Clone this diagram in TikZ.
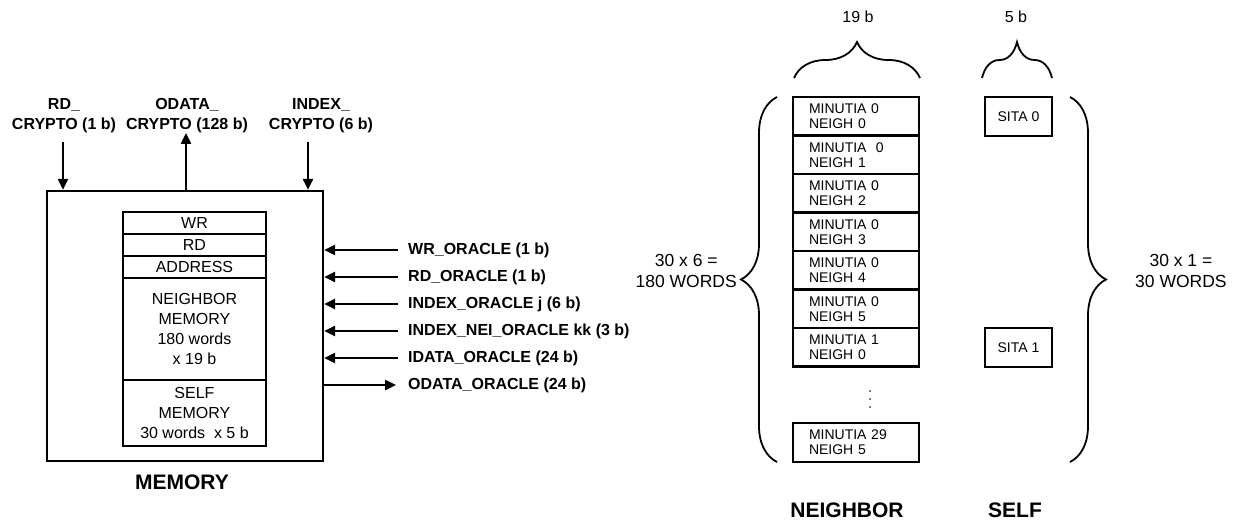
\documentclass[tikz,border=0pt]{standalone}
\usepackage{fontspec}
\setmainfont{Liberation Sans}
\usetikzlibrary{arrows.meta,decorations.pathreplacing}

\begin{document}
\begin{tikzpicture}[x=1pt,y=-1pt,
  box/.style={draw,line width=2.4pt,inner sep=0pt},
  cellrow/.style={box,minimum width=143pt,align=center,font=\fontsize{16}{20}\selectfont},
  wordcell/.style={box,minimum width=126pt,minimum height=38.5pt,text width=94pt,
    inner xsep=16pt,align=left,font=\fontsize{14}{15}\selectfont},
  sitacell/.style={box,minimum width=67pt,minimum height=39pt,font=\fontsize{14}{16}\selectfont},
  sig/.style={line width=2.4pt,-{Triangle[length=11pt,width=10pt]}},
  siglabel/.style={anchor=west,inner sep=0pt,font=\bfseries\fontsize{16}{18}\selectfont},
  toplabel/.style={align=center,inner sep=0pt,font=\bfseries\fontsize{16}{20}\selectfont},
  title/.style={inner sep=0pt,font=\bfseries\fontsize{21}{24}\selectfont},
  dim/.style={inner sep=0pt,align=center,font=\fontsize{17.5}{21}\selectfont},
  curly/.style={line width=1.8pt,decorate,decoration={brace,amplitude=36pt}}]

\useasboundingbox (0,0) rectangle (1234,524);

% ---------- memory block ----------
\node[box,minimum width=276pt,minimum height=270pt] (mem) at (185,326) {};
\node[cellrow,minimum height=22pt] (wr) at (194.5,223) {WR};
\node[cellrow,minimum height=22pt] (rd) at (194.5,245) {RD};
\node[cellrow,minimum height=22pt] (addr) at (194.5,267) {ADDRESS};
\node[cellrow,minimum height=102pt] (nmem) at (194.5,329)
  {NEIGHBOR\\MEMORY\\180 words\\x 19 b};
\node[cellrow,minimum height=66pt] (smem) at (194.5,413)
  {SELF\\MEMORY\\30 words\ \ x 5 b};
\node[title] (memt) at (182,482) {MEMORY};

% ---------- crypto side ----------
\node[toplabel] (rdc) at (64,116) {RD\_\\CRYPTO (1 b)};
\node[toplabel] (odc) at (187,116) {ODATA\_\\CRYPTO (128 b)};
\node[toplabel] (ixc) at (321,116) {INDEX\_\\CRYPTO (6 b)};
\coordinate (rdc-s) at (63,142);
\coordinate (odc-s) at (186,133);
\coordinate (ixc-s) at (308,142);
\draw[sig] (rdc-s) -- (rdc-s |- mem.north);
\draw[sig] (odc-s |- mem.north) -- (odc-s);
\draw[sig] (ixc-s) -- (ixc-s |- mem.north);

% ---------- oracle side ----------
\foreach \name/\yy/\txt in {wro/250/WR\_ORACLE (1 b),
                            rdo/277/RD\_ORACLE (1 b),
                            ixo/304/INDEX\_ORACLE j (6 b),
                            nio/331/INDEX\_NEI\_ORACLE kk (3 b),
                            ido/358/IDATA\_ORACLE (24 b)}{
  \node[siglabel] (\name) at (408,\yy) {\txt};
  \coordinate (\name-s) at (398,\yy);
  \draw[sig] (\name-s) -- (\name-s -| mem.east);
}
\node[siglabel] (odo) at (408,385) {ODATA\_ORACLE (24 b)};
\coordinate (odo-e) at (396,385);
\draw[sig] (odo-e -| mem.east) -- (odo-e);

% ---------- neighbor memory words ----------
\node[wordcell] (n00) at (856,116.25) {MINUTIA 0\\NEIGH 0};
\node[wordcell] (n01) at (856,154.75) {MINUTIA\ \ 0\\NEIGH 1};
\node[wordcell] (n02) at (856,193.25) {MINUTIA 0\\NEIGH 2};
\node[wordcell] (n03) at (856,231.75) {MINUTIA 0\\NEIGH 3};
\node[wordcell] (n04) at (856,270.25) {MINUTIA 0\\NEIGH 4};
\node[wordcell] (n05) at (856,308.75) {MINUTIA 0\\NEIGH 5};
\node[wordcell] (n10) at (856,347.25) {MINUTIA 1\\NEIGH 0};
\fill (870,391) circle (0.9) (870,399) circle (0.9) (870,407) circle (0.9);
\node[wordcell] (n295) at (856,442.5) {MINUTIA 29\\NEIGH 5};
\node[title] (nt) at (847,510) {NEIGHBOR};

% ---------- self memory words ----------
\node[sitacell] (s0) at (1018.5,116.5) {SITA 0};
\node[sitacell] (s1) at (1018.5,347.5) {SITA 1};
\node[title] (st) at (1015,510) {SELF};

% ---------- braces and sizes ----------
\draw[curly] (794,78) -- (920,78);
\draw[curly] (982,78) -- (1052,78);
\node[dim,font=\fontsize{16}{20}\selectfont] (nb) at (858,17) {19 b};
\node[dim,font=\fontsize{16}{20}\selectfont] (sb) at (1016,17) {5 b};

\draw[curly] (777,462) -- (777,97);
\node[dim,anchor=east] (nw) at (737,271) {30 x 6 =\\180 WORDS};
\draw[curly] (1070,97) -- (1070,462);
\node[dim,anchor=west] (sw) at (1135,271) {30 x 1 =\\30 WORDS};

\end{tikzpicture}
\end{document}
